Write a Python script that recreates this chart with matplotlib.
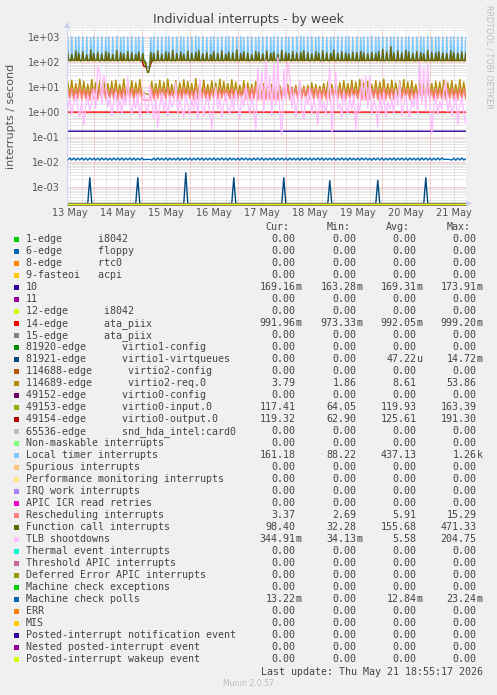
""" Munin style weekly graph of individual interrupts """

import matplotlib
matplotlib.use("Agg")
import matplotlib.pyplot as plt
from matplotlib.patches import Rectangle, Polygon
from matplotlib.ticker import FixedLocator, NullLocator
import numpy as np

W, H = 497, 695

# half-hourly samples, first one at 13 May 11:00
local_timer = [
    1050, 128, 124, 131, 1080, 126, 133, 127, 1020, 130, 125, 1100, 129, 132, 126,
    1040, 131, 127, 124, 1070, 133, 128, 125, 1010, 129, 134, 1090, 126, 130, 127,
    1030, 125, 132, 128, 1060, 127, 124, 131, 990, 133, 126, 1080, 129, 125, 132,
    1050, 128, 130, 126, 1120, 124, 131, 127, 1020, 129, 133, 1060, 126, 128, 130,
    1040, 132, 125, 129, 1090, 127, 130, 124, 1000, 131, 128, 1070, 126, 133, 127,
    1040, 126, 122, 100, 75, 60, 58, 85, 1010, 131, 127, 1080, 129, 125, 132,
    1030, 128, 124, 130, 1070, 133, 126, 129, 1050, 127, 131, 1100, 125, 128, 134,
    1020, 129, 126, 132, 1060, 124, 130, 127, 1090, 131, 125, 1010, 133, 128, 126,
    1070, 130, 127, 125, 1050, 132, 129, 126, 1120, 128, 134, 1030, 127, 131, 124,
    1080, 126, 133, 128, 1000, 131, 125, 130, 1060, 127, 129, 1090, 132, 126, 128,
    1020, 134, 127, 131, 1070, 125, 130, 128, 1040, 133, 126, 1110, 129, 127, 131,
    1030, 128, 125, 132, 1060, 130, 127, 124, 1090, 126, 131, 1010, 128, 133, 125,
    1080, 131, 129, 126, 1050, 127, 134, 130, 1000, 128, 125, 1070, 132, 127, 129,
    1040, 126, 130, 133, 1100, 129, 124, 127, 1020, 131, 128, 1060, 125, 130, 132,
    1090, 127, 131, 125, 1030, 132, 128, 126, 1080, 129, 133, 1050, 127, 124, 130,
    1010, 133, 126, 129, 1070, 125, 131, 128, 1120, 127, 130, 1040, 134, 126, 128,
    1060, 129, 132, 127, 1090, 130, 125, 133, 1020, 128, 126, 1080, 131, 129, 124,
    1050, 126, 128, 131, 1000, 134, 127, 125, 1070, 130, 132, 1030, 128, 126, 133,
    1100, 131, 124, 128, 1040, 127, 130, 132, 1060, 125, 129, 1090, 126, 131, 127,
    1020, 128, 133, 126, 1080, 129, 125, 130, 1010, 132, 127, 1070, 130, 124, 129,
    1050, 132, 127, 130, 1110, 126, 131, 128, 1030, 129, 134, 1060, 125, 128, 131,
    1090, 125, 130, 127, 1020, 133, 128, 126, 1080, 131, 124, 1040, 129, 132, 126,
    1070, 130, 126, 133, 1050, 128, 131, 125, 1000, 127, 130, 1090, 134, 128, 126,
    1030, 127, 132, 129, 1060, 124, 128, 131, 1080, 126, 133, 1020, 130, 127, 125,
    1100, 133, 128, 126, 1040, 131, 125, 130, 1070, 128, 132, 1050, 126, 129, 134,
    1010, 129, 131, 127, 1090, 125, 130, 133, 1060, 127, 124, 1080, 131, 128, 126,
    1040, 130, 127, 132, 1070, 126, 129, 131, 1020, 161,
]

function_call = [
    240, 115, 118, 112, 210, 120, 114, 117, 280, 113, 119, 230, 116, 111, 118,
    260, 114, 117, 120, 200, 112, 118, 115, 310, 119, 113, 225, 117, 114, 120,
    250, 116, 111, 118, 215, 114, 120, 113, 270, 117, 115, 235, 112, 119, 116,
    205, 118, 114, 117, 290, 111, 116, 120, 245, 115, 113, 220, 118, 114, 117,
    265, 112, 119, 115, 240, 117, 113, 118, 210, 114, 120, 255, 116, 112, 118,
    230, 115, 110, 90, 50, 38, 40, 70, 250, 108, 114, 230, 112, 117, 115,
    280, 116, 113, 119, 215, 111, 118, 114, 260, 117, 112, 240, 119, 115, 113,
    300, 114, 117, 112, 225, 118, 115, 120, 255, 113, 116, 210, 117, 119, 114,
    275, 118, 112, 116, 235, 115, 119, 113, 250, 117, 114, 290, 112, 116, 119,
    220, 113, 118, 115, 245, 119, 114, 117, 205, 112, 118, 265, 115, 113, 120,
    230, 117, 114, 119, 285, 112, 116, 118, 215, 114, 120, 250, 113, 117, 115,
    240, 119, 113, 116, 310, 115, 118, 112, 225, 117, 114, 260, 119, 116, 113,
    235, 112, 118, 114, 205, 119, 113, 117, 270, 115, 118, 245, 112, 114, 119,
    220, 116, 114, 118, 280, 113, 117, 115, 230, 119, 112, 255, 116, 118, 114,
    210, 118, 115, 112, 300, 116, 119, 114, 240, 113, 117, 225, 118, 115, 112,
    265, 114, 119, 117, 235, 112, 115, 118, 250, 116, 113, 290, 114, 119, 117,
    245, 117, 112, 115, 220, 118, 114, 113, 260, 119, 116, 230, 115, 112, 118,
    285, 113, 117, 119, 240, 114, 116, 112, 225, 117, 119, 310, 113, 116, 115,
    230, 119, 114, 116, 265, 113, 118, 115, 240, 116, 112, 215, 119, 117, 114,
    255, 115, 118, 113, 245, 117, 112, 119, 275, 114, 116, 235, 112, 118, 116,
    220, 118, 116, 114, 250, 115, 119, 117, 230, 112, 118, 265, 116, 113, 119,
    330, 112, 115, 118, 260, 119, 114, 116, 420, 113, 117, 240, 118, 115, 112,
    280, 116, 119, 113, 235, 114, 118, 112, 300, 117, 115, 255, 113, 119, 116,
    225, 114, 112, 118, 270, 116, 113, 119, 245, 115, 118, 220, 112, 116, 114,
    290, 119, 116, 114, 250, 113, 117, 115, 235, 118, 112, 265, 119, 114, 117,
    240, 113, 118, 116, 225, 117, 114, 119, 285, 112, 116, 250, 115, 118, 113,
    230, 116, 114, 119, 260, 118, 113, 117, 245, 98,
]

# hourly samples, first one at 13 May 11:00
virtio2_req = [
    16, 4.2, 19, 4.0, 14, 4.4, 21, 4.1, 17, 4.3,
    13, 4.0, 20, 4.5, 15, 4.1, 18, 4.2, 22, 4.0,
    14, 4.3, 17, 4.1, 19, 4.4, 13, 4.2, 21, 4.0,
    16, 4.5, 18, 4.1, 15, 4.3, 20, 4.6, 6.0, 5.4,
    5.2, 5.0, 17, 4.2, 14, 4.4, 19, 4.1, 16, 4.3,
    21, 4.0, 13, 4.5, 18, 4.2, 15, 4.1, 20, 4.3,
    17, 4.4, 14, 4.0, 22, 4.2, 16, 4.5, 19, 4.1,
    13, 4.3, 18, 4.2, 15, 4.0, 21, 4.4, 17, 4.1,
    14, 4.2, 20, 4.5, 16, 4.3, 12, 4.1, 18, 4.0,
    15, 4.4, 13, 4.2, 17, 4.1, 12, 4.3, 14, 4.0,
    11, 4.5, 13, 4.2, 10, 4.1, 12, 4.4, 11, 4.0,
    13, 4.3, 10, 4.2, 12, 4.1, 14, 4.5, 11, 4.0,
    12, 4.2, 15, 4.4, 13, 4.1, 11, 4.3, 14, 4.2,
    16, 4.0, 13, 4.5, 17, 4.2, 15, 4.1, 18, 4.3,
    14, 4.4, 19, 4.2, 16, 4.0, 20, 4.1, 15, 4.3,
    17, 4.5, 13, 4.2, 18, 4.1, 16, 4.4, 21, 4.0,
    14, 4.3, 19, 4.2, 15, 4.1, 17, 4.4, 20, 4.2,
    16, 4.0, 18, 4.5, 13, 4.3, 19, 4.1, 15, 4.2,
    21, 4.4, 14, 4.0, 17, 4.2, 16, 4.3, 19, 4.1,
    15, 4.5, 18, 4.2, 13, 4.1, 20, 4.4, 16, 3.8,
]

rescheduling = [
    8.5, 3.3, 9.2, 3.1, 7.8, 3.4, 9.6, 3.2, 8.1, 3.3,
    7.5, 3.1, 9.0, 3.5, 8.3, 3.2, 8.8, 3.0, 9.8, 3.3,
    7.9, 3.4, 8.6, 3.2, 9.3, 3.1, 7.6, 3.3, 9.1, 3.2,
    8.4, 3.5, 8.9, 3.1, 7.7, 3.3, 9.4, 3.4, 3.1, 3.0,
    3.0, 3.1, 8.2, 3.2, 7.8, 3.4, 9.0, 3.1, 8.5, 3.3,
    9.5, 3.2, 7.6, 3.4, 8.7, 3.1, 8.0, 3.3, 9.2, 3.2,
    8.3, 3.5, 7.9, 3.1, 9.7, 3.3, 8.4, 3.2, 8.9, 3.4,
    7.7, 3.1, 8.6, 3.3, 8.1, 3.2, 9.4, 3.5, 8.2, 3.1,
    7.8, 3.3, 9.1, 3.4, 8.5, 3.2, 7.6, 3.1, 8.8, 3.3,
    8.9, 3.2, 9.6, 3.4, 10.2, 3.1, 9.0, 3.3, 10.5, 3.2,
    9.8, 3.4, 10.1, 3.3, 9.3, 3.1, 10.4, 3.2, 9.7, 3.5,
    10.0, 3.2, 9.1, 3.4, 9.9, 3.1, 10.3, 3.3, 9.5, 3.2,
    9.2, 3.3, 8.7, 3.1, 9.6, 3.4, 8.4, 3.2, 9.0, 3.3,
    8.3, 3.1, 8.9, 3.4, 7.9, 3.2, 9.3, 3.3, 8.6, 3.1,
    8.0, 3.4, 9.5, 3.2, 8.2, 3.3, 8.8, 3.1, 7.7, 3.2,
    8.6, 3.3, 8.1, 3.5, 9.2, 3.1, 8.4, 3.3, 9.9, 3.2,
    7.8, 3.4, 9.0, 3.2, 8.3, 3.1, 8.7, 3.3, 9.4, 3.2,
    8.5, 3.1, 8.2, 3.4, 7.6, 3.3, 9.1, 3.2, 8.0, 3.3,
    9.6, 3.2, 7.9, 3.1, 8.8, 3.4, 8.4, 3.3, 9.3, 3.2,
    8.1, 3.4, 8.9, 3.2, 7.7, 3.1, 9.0, 3.3, 8.3, 3.37,
]

tlb_shootdowns = [
    1.2, 3.5, 0.8, 2.1, 5.0, 1.5, 0.6, 2.8, 0.3, 1.9,
    4.2, 1.1, 2.5, 8.0, 1.4, 65, 40, 2.2, 30, 12,
    1.6, 3.8, 0.7, 2.4, 6.5, 1.0, 3.1, 0.9, 4.6, 1.8,
    25, 2.0, 0.8, 3.3, 1.3, 5.5, 0.6, 2.7, 7.0, 1.5,
    0.9, 12, 2.3, 0.5, 3.6, 0.25, 1.7, 6.0, 1.1, 2.9,
    0.7, 4.4, 1.6, 2.2, 15, 0.9, 3.0, 1.4, 0.6, 5.2,
    2.0, 0.8, 3.4, 1.2, 6.8, 0.5, 20, 1.9, 0.7, 2.6,
    4.0, 1.0, 0.2, 2.8, 10, 1.3, 3.5, 0.6, 2.1, 5.8,
    1.5, 0.8, 3.9, 1.1, 7.5, 2.4, 0.5, 4.5, 1.7, 12,
    2.2, 0.9, 5.0, 1.3, 0.2, 60, 3.0, 40, 1.0, 120,
    2.5, 30, 0.7, 80, 1.8, 150, 0.9, 0.12, 50, 3.3,
    100, 25, 1.4, 6.0, 0.6, 2.7, 18, 1.2, 0.5, 4.1,
    2.0, 9.0, 0.8, 3.2, 1.5, 0.3, 5.5, 1.1, 2.6, 0.7,
    4.8, 60, 0.15, 3.0, 40, 1.3, 2.2, 0.6, 7.0, 1.6,
    0.9, 3.7, 1.2, 5.0, 0.2, 2.4, 1.0, 22, 3.1, 28,
    1.4, 25, 0.8, 2.9, 1.7, 0.25, 4.3, 1.1, 6.2, 0.6,
    2.5, 1.3, 3.6, 0.9, 8.0, 1.8, 15, 0.7, 2.0, 4.7,
    1.2, 0.6, 3.4, 1.5, 5.8, 0.9, 100, 2.2, 60, 1.1,
    80, 3.0, 0.13, 1.6, 4.4, 0.8, 2.7, 1.3, 6.5, 20,
    1.0, 3.2, 0.7, 2.1, 5.0, 0.3, 1.8, 3.6, 0.9, 0.34,
]

check_polls = [
    0.0117, 0.0141, 0.0118, 0.0142, 0.0116, 0.0140, 0.0118, 0.0143, 0.0117, 0.0141,
    0.0116, 0.0142, 0.0118, 0.0140, 0.0117, 0.0141, 0.0116, 0.0143, 0.0118, 0.0141,
    0.0117, 0.0140, 0.0116, 0.0142, 0.0118, 0.0141, 0.0117, 0.0143, 0.0116, 0.0140,
    0.0118, 0.0142, 0.0117, 0.0141, 0.0116, 0.0140, 0.0118, 0.0142, 0.0121, 0.0125,
    0.0124, 0.0126, 0.0117, 0.0141, 0.0116, 0.0143, 0.0118, 0.0140, 0.0117, 0.0142,
    0.0116, 0.0141, 0.0118, 0.0140, 0.0117, 0.0143, 0.0116, 0.0141, 0.0118, 0.0142,
    0.0117, 0.0140, 0.0116, 0.0141, 0.0118, 0.0143, 0.0117, 0.0142, 0.0116, 0.0140,
    0.0118, 0.0141, 0.0117, 0.0142, 0.0116, 0.0140, 0.0118, 0.0143, 0.0117, 0.0141,
    0.0116, 0.0142, 0.0118, 0.0140, 0.0117, 0.0141, 0.0116, 0.0143, 0.0118, 0.0142,
    0.0117, 0.0140, 0.0116, 0.0141, 0.0118, 0.0142, 0.0117, 0.0143, 0.0116, 0.0140,
    0.0118, 0.0141, 0.0117, 0.0142, 0.0116, 0.0140, 0.0118, 0.0143, 0.0117, 0.0141,
    0.0116, 0.0142, 0.0118, 0.0140, 0.0117, 0.0141, 0.0116, 0.0143, 0.0118, 0.0142,
    0.0117, 0.0140, 0.0116, 0.0141, 0.0118, 0.0142, 0.0117, 0.0143, 0.0116, 0.0140,
    0.0118, 0.0141, 0.0117, 0.0142, 0.0116, 0.0140, 0.0118, 0.0143, 0.0117, 0.0141,
    0.0116, 0.0142, 0.0118, 0.0140, 0.0117, 0.0141, 0.0116, 0.0143, 0.0118, 0.0142,
    0.0117, 0.0140, 0.0116, 0.0141, 0.0118, 0.0142, 0.0117, 0.0143, 0.0116, 0.0140,
    0.0118, 0.0141, 0.0117, 0.0142, 0.0116, 0.0140, 0.0118, 0.0143, 0.0117, 0.0141,
    0.0116, 0.0142, 0.0118, 0.0140, 0.0117, 0.0141, 0.0116, 0.0143, 0.0118, 0.0142,
    0.0117, 0.0140, 0.0116, 0.0141, 0.0118, 0.0142, 0.0117, 0.0143, 0.0124, 0.0126,
    0.0125, 0.0124, 0.0117, 0.0141, 0.0116, 0.0140, 0.0118, 0.0142, 0.0117, 0.0132,
]

# sparse series (hour index -> value)
flat_hours = [0, 50, 100, 150, 199]
irq10 = [0.169, 0.170, 0.169, 0.168, 0.169]
irq14 = [0.992, 0.991, 0.993, 0.992, 0.992]

virtio0_hours = [0, 36, 37, 38, 39, 40, 41, 42, 43, 100, 199]
virtio0_input = [120, 121, 120, 110, 70, 65, 68, 105, 120, 121, 117]
virtio0_output = [125, 126, 124, 70, 64, 64, 64, 124, 125, 126, 119]

virtq_spike_hours = [11, 35, 59, 83, 108, 131, 155, 179]
virtq_spike_vals = [0.0023, 0.0023, 0.0036, 0.0023, 0.0023, 0.00175, 0.0018, 0.0023]

# legend
labels = ["1-edge      i8042", "6-edge      floppy", "8-edge      rtc0",
          "9-fasteoi   acpi", "10", "11", "12-edge      i8042",
          "14-edge      ata_piix", "15-edge      ata_piix",
          "81920-edge      virtio1-config", "81921-edge      virtio1-virtqueues",
          "114688-edge      virtio2-config", "114689-edge      virtio2-req.0",
          "49152-edge      virtio0-config", "49153-edge      virtio0-input.0",
          "49154-edge      virtio0-output.0", "65536-edge      snd_hda_intel:card0",
          "Non-maskable interrupts", "Local timer interrupts",
          "Spurious interrupts", "Performance monitoring interrupts",
          "IRQ work interrupts", "APIC ICR read retries",
          "Rescheduling interrupts", "Function call interrupts",
          "TLB shootdowns", "Thermal event interrupts",
          "Threshold APIC interrupts", "Deferred Error APIC interrupts",
          "Machine check exceptions", "Machine check polls", "ERR", "MIS",
          "Posted-interrupt notification event",
          "Nested posted-interrupt event", "Posted-interrupt wakeup event"]

colors = ["#00CC00", "#0066B3", "#FF8000", "#FFCC00", "#330099", "#990099",
          "#CCFF00", "#FF0000", "#808080", "#008F00", "#00487D", "#B35A00",
          "#B38F00", "#6B006B", "#8FB300", "#B30000", "#BEBEBE", "#80FF80",
          "#80C9FF", "#FFC080", "#FFE680", "#AA80FF", "#EE00CC", "#FF8080",
          "#666600", "#FFBFFF", "#00FFCC", "#CC6699", "#999900", "#00CC00",
          "#0066B3", "#FF8000", "#FFCC00", "#330099", "#990099", "#CCFF00"]

cur = ["0.00", "0.00", "0.00", "0.00", "169.16m", "0.00", "0.00", "991.96m",
       "0.00", "0.00", "0.00", "0.00", "3.79", "0.00", "117.41", "119.32",
       "0.00", "0.00", "161.18", "0.00", "0.00", "0.00", "0.00", "3.37",
       "98.40", "344.91m", "0.00", "0.00", "0.00", "0.00", "13.22m", "0.00",
       "0.00", "0.00", "0.00", "0.00"]
mins = ["0.00", "0.00", "0.00", "0.00", "163.28m", "0.00", "0.00", "973.33m",
        "0.00", "0.00", "0.00", "0.00", "1.86", "0.00", "64.05", "62.90",
        "0.00", "0.00", "88.22", "0.00", "0.00", "0.00", "0.00", "2.69",
        "32.28", "34.13m", "0.00", "0.00", "0.00", "0.00", "0.00", "0.00",
        "0.00", "0.00", "0.00", "0.00"]
avgs = ["0.00", "0.00", "0.00", "0.00", "169.31m", "0.00", "0.00", "992.05m",
        "0.00", "0.00", "47.22u", "0.00", "8.61", "0.00", "119.93", "125.61",
        "0.00", "0.00", "437.13", "0.00", "0.00", "0.00", "0.00", "5.91",
        "155.68", "5.58", "0.00", "0.00", "0.00", "0.00", "12.84m", "0.00",
        "0.00", "0.00", "0.00", "0.00"]
maxs = ["0.00", "0.00", "0.00", "0.00", "173.91m", "0.00", "0.00", "999.20m",
        "0.00", "0.00", "14.72m", "0.00", "53.86", "0.00", "163.39", "191.30",
        "0.00", "0.00", "1.26k", "0.00", "0.00", "0.00", "0.00", "15.29",
        "471.33", "204.75", "0.00", "0.00", "0.00", "0.00", "23.24m", "0.00",
        "0.00", "0.00", "0.00", "0.00"]

day_labels = ["13 May", "14 May", "15 May", "16 May", "17 May",
              "18 May", "19 May", "20 May", "21 May"]

# ------------------------------------------------------------------
t0 = 13 + 11 / 24.0
hours = np.arange(len(virtio2_req))
t = t0 + hours / 24.0
t30 = t0 + np.arange(len(local_timer)) / 48.0
ymin, ymax = 10 ** -3.675, 10 ** 3.333
xmin, xmax = 13.442, 13.442 + 399 / 48.0

virtq = np.zeros(len(hours))
virtq[virtq_spike_hours] = virtq_spike_vals

series = {
    4: (t0 + np.array(flat_hours) / 24.0, irq10),
    7: (t0 + np.array(flat_hours) / 24.0, irq14),
    10: (t, virtq),
    12: (t, virtio2_req),
    14: (t0 + np.array(virtio0_hours) / 24.0, virtio0_input),
    15: (t0 + np.array(virtio0_hours) / 24.0, virtio0_output),
    18: (t30, local_timer),
    23: (t, rescheduling),
    24: (t30, function_call),
    25: (t, tlb_shootdowns),
    30: (t, check_polls),
}

fig = plt.figure(figsize=(W / 100, H / 100), dpi=100, facecolor="#F0F0F0")
ax = fig.add_axes([67 / W, 1 - 203.5 / H, 399 / W, 174.5 / H])
ax.set_facecolor("white")
ax.set_yscale("log")
ax.set_xlim(xmin, xmax)
ax.set_ylim(ymin, ymax)

# grid, rrdtool style
dots = (0, (1, 1))
for d in np.arange(13.5, 22, 0.25):
    if xmin < d < xmax and d % 1 != 0:
        ax.axvline(d, color="#D0D0D0", lw=0.72, ls=dots, zorder=0)
for k in range(-4, 4):
    for m in range(2, 10):
        v = m * 10.0 ** k
        if ymin < v < ymax:
            ax.axhline(v, color="#D0D0D0", lw=0.72, ls=dots, zorder=0)
for d in range(14, 22):
    ax.axvline(d, color="#F0A8A8", lw=0.72, ls=dots, zorder=0.5)
for k in range(-3, 4):
    ax.axhline(10.0 ** k, color="#F0A8A8", lw=0.72, ls=dots, zorder=0.5)

for i, c in enumerate(colors):
    if i in series:
        x, y = series[i]
    else:
        x, y = t, np.zeros(len(t))
    y = np.maximum(np.asarray(y, dtype=float), ymin)
    ax.plot(x, y, color=c, lw=1.0, zorder=2 + i * 0.01,
            clip_on=(i in series and i != 10))

ax.yaxis.set_major_locator(FixedLocator([10.0 ** k for k in range(-3, 4)]))
ax.yaxis.set_minor_locator(NullLocator())
ax.set_yticklabels(["1e-03", "1e-02", "1e-01", "1e+00", "1e+01", "1e+02", "1e+03"])
ax.set_xticks([d + 0.5 for d in range(13, 22)])
ax.set_xticklabels(day_labels)
ax.tick_params(axis="both", length=0, labelsize=7, labelcolor="#555555")
ax.tick_params(axis="y", pad=5)
ax.tick_params(axis="x", pad=3.5)
for s in ["top", "right", "bottom"]:
    ax.spines[s].set_visible(False)
ax.spines["left"].set_color("#D0D4F0")
ax.spines["left"].set_linewidth(0.8)
ax.set_ylabel("interrupts / second", fontsize=8, color="#555555", labelpad=8)

# overlay in pixel coordinates for text and legend
ov = fig.add_axes([0, 0, 1, 1])
ov.set_xlim(0, W)
ov.set_ylim(H, 0)
ov.axis("off")
ov.add_patch(Polygon([(64, 28), (70, 28), (67, 22)], closed=True,
                     color="#C8CEF2", lw=0))
ov.add_patch(Polygon([(466, 200.5), (466, 206.5), (472, 203.5)], closed=True,
                     color="#C8CEF2", lw=0))

ov.text(248, 19.5, "Individual interrupts - by week", ha="center", va="center",
        fontsize=9, color="#444444")
ov.text(488.5, 57, "RRDTOOL / TOBI OETIKER", ha="center", va="center",
        rotation=270, fontsize=5.9, color="#BDBDBD")

mono = "DejaVu Sans Mono"
fs = 7.2
heads = ["Cur:", "Min:", "Avg:", "Max:"]
head_x = [289.3, 350.3, 410.3, 470.3]
col_x = [295.3, 356.7, 416.7, 476.7]
for hx, hd in zip(head_x, heads):
    ov.text(hx, 227.5, hd, ha="right", va="center", family=mono, fontsize=fs,
            color="#444444")

for r, (lab, c) in enumerate(zip(labels, colors)):
    y = 239.5 + 12 * r
    ov.add_patch(Rectangle((14, y - 2.7), 5.3, 5.3, color=c, lw=0))
    ov.text(26, y, lab, ha="left", va="center", family=mono, fontsize=fs,
            color="#444444")
    for cx, col in zip(col_x, [cur, mins, avgs, maxs]):
        v = col[r]
        unit = v[-1] if v[-1].isalpha() else ""
        num = v[:-1] if unit else v
        ov.text(cx, y, num, ha="right", va="center", family=mono, fontsize=fs,
                color="#444444")
        if unit:
            ov.text(cx, y, unit, ha="left", va="center", family=mono,
                    fontsize=fs, color="#444444")

ov.text(482.7, 671.7, "Last update: Thu May 21 18:55:17 2026", ha="right",
        va="center", family=mono, fontsize=fs, color="#444444")
ov.text(248, 683.5, "Munin 2.0.57", ha="center", va="center", fontsize=5.6,
        color="#BDBDBD")

fig.savefig("out.png", dpi=100, facecolor=fig.get_facecolor())
plt.close()
